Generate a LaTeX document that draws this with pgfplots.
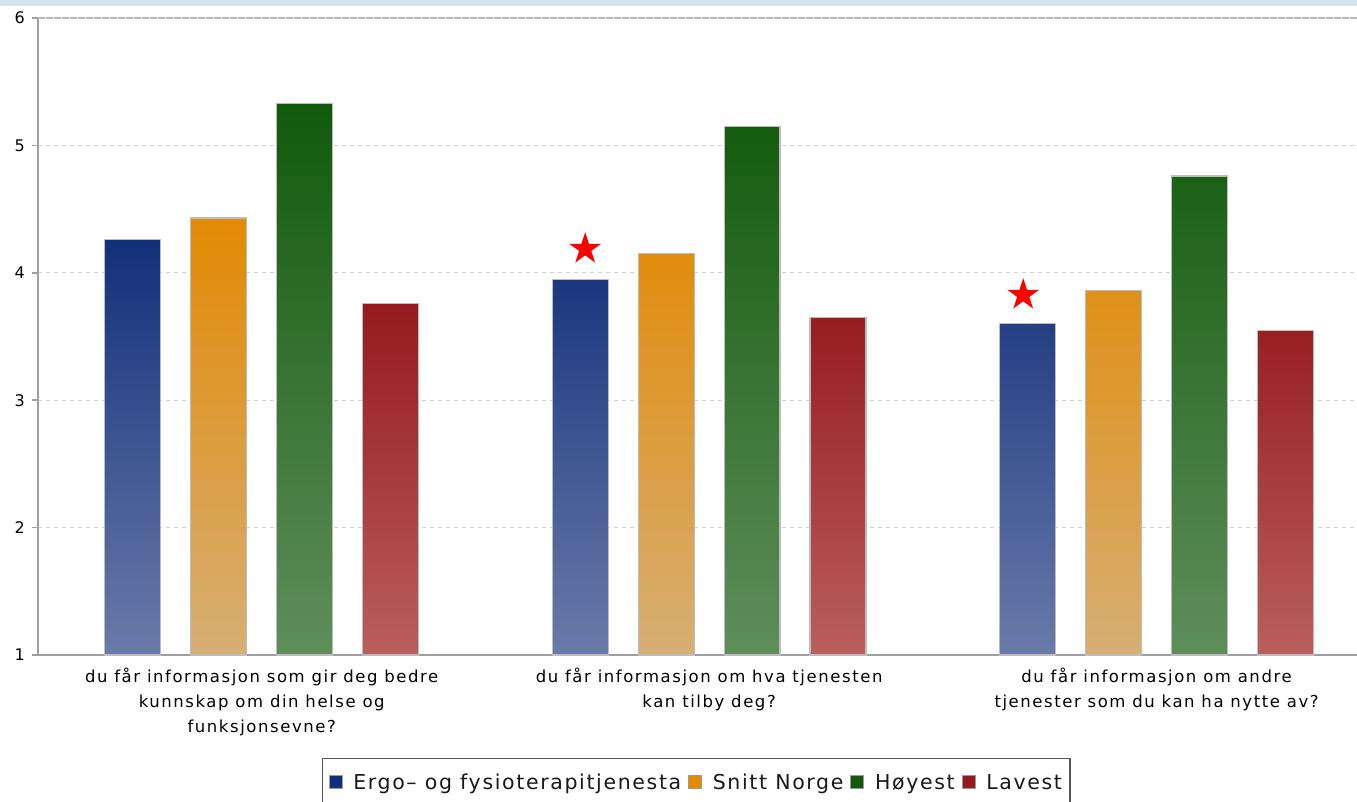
\documentclass[border=0pt]{standalone}
\usepackage{fontspec}
\setmainfont{DejaVu Sans}
\newfontfamily\labfont[LetterSpace=9.5]{DejaVu Sans}
\newfontfamily\legfont[LetterSpace=8]{DejaVu Sans}
\usepackage{pgfplots}
\pgfplotsset{compat=1.18}
\definecolor{blueTop}{HTML}{12307A}
\definecolor{blueBot}{HTML}{6A7BAA}
\definecolor{orangeTop}{HTML}{E38A05}
\definecolor{orangeBot}{HTML}{D6AF74}
\definecolor{greenTop}{HTML}{115A0B}
\definecolor{greenBot}{HTML}{5F8E5B}
\definecolor{redTop}{HTML}{951A1D}
\definecolor{redBot}{HTML}{BA5E5E}
\definecolor{axisgray}{HTML}{A0A0A0}
\definecolor{gridgray}{HTML}{D0D0D0}
\definecolor{barborder}{HTML}{BDBDBD}
\definecolor{stripblue}{HTML}{D5E3EC}
\definecolor{legborder}{HTML}{555555}
\definecolor{sqborder}{HTML}{9A9A9A}
\pgfdeclareplotmark{fstar}{%
  \pgfpathmoveto{\pgfpointpolar{90}{\pgfplotmarksize}}%
  \pgfpathlineto{\pgfpointpolar{126}{0.382\pgfplotmarksize}}%
  \pgfpathlineto{\pgfpointpolar{162}{\pgfplotmarksize}}%
  \pgfpathlineto{\pgfpointpolar{198}{0.382\pgfplotmarksize}}%
  \pgfpathlineto{\pgfpointpolar{234}{\pgfplotmarksize}}%
  \pgfpathlineto{\pgfpointpolar{270}{0.382\pgfplotmarksize}}%
  \pgfpathlineto{\pgfpointpolar{306}{\pgfplotmarksize}}%
  \pgfpathlineto{\pgfpointpolar{342}{0.382\pgfplotmarksize}}%
  \pgfpathlineto{\pgfpointpolar{18}{\pgfplotmarksize}}%
  \pgfpathlineto{\pgfpointpolar{54}{0.382\pgfplotmarksize}}%
  \pgfpathclose
  \pgfusepathqfill}
\newcommand{\legsq}[1]{%
  \pgfsetfillcolor{#1}\pgfsetstrokecolor{sqborder}\pgfsetlinewidth{0.6pt}%
  \pgfpathrectangle{\pgfpoint{0pt}{-6.5pt}}{\pgfpoint{13pt}{13pt}}%
  \pgfusepath{fill,stroke}}
\begin{document}
\begin{tikzpicture}[x=1pt,y=1pt]
\path[use as bounding box] (0,0) rectangle (1357,802);
\clip (0,0) rectangle (1357,802);
\fill[stripblue] (0,796) rectangle (1357,802);
\begin{axis}[
  at={(38pt,147pt)}, anchor=south west,
  scale only axis, width=1319pt, height=637pt,
  xmin=-0.5, xmax=2.448, ymin=1, ymax=6,
  axis x line*=bottom, axis y line*=left,
  axis line style={draw=axisgray, line width=2pt},
  ytick={1,2,3,4,5,6},
  extra y ticks={6}, extra y tick labels={},
  extra y tick style={grid style={draw=gray!55, line width=2.5pt, dash pattern=on 7pt off 1pt}},
  xtick={0,1,2},
  xticklabels={{du får informasjon som gir deg bedre\\kunnskap om din helse og\\funksjonsevne?},
               {du får informasjon om hva tjenesten\\kan tilby deg?},
               {du får informasjon om andre\\tjenester som du kan ha nytte av?}},
  xticklabel style={align=center, font=\labfont\fontsize{16.5}{25}\selectfont, inner sep=0pt, yshift=-7pt, text=black},
  yticklabel style={font=\labfont\fontsize{16}{16}\selectfont, inner sep=0pt, xshift=-7pt, text=black},
  /pgf/number format/assume math mode=true,
  major x tick style={draw=none},
  ytick style={draw=axisgray, line width=1.5pt},
  tick align=outside, major tick length=6pt,
  ymajorgrids,
  grid style={draw=gridgray, line width=1pt, dash pattern=on 4pt off 4pt},
  legend columns=-1,
  legend style={at={(0.2153,-0.1617)}, anchor=north west, draw=legborder, line width=1.5pt,
    font=\legfont\fontsize{20.5}{20.5}\selectfont, text=black!90, inner xsep=6pt, inner ysep=13pt,
    /tikz/every odd column/.append style={column sep=9pt},
    /tikz/every even column/.append style={column sep=5pt}},
  clip=false,
]
\addplot[ybar, bar width=0.125, bar shift=-0.288, top color=blueTop, bottom color=blueBot, draw=barborder, line width=1.2pt,
  legend image code/.code={\legsq{blueTop}}]
  coordinates {(0,4.26) (1,3.95) (2,3.60)};
\addlegendentry{Ergo– og fysioterapitjenesta}
\addplot[ybar, bar width=0.125, bar shift=-0.096, top color=orangeTop, bottom color=orangeBot, draw=barborder, line width=1.2pt,
  legend image code/.code={\legsq{orangeTop}}]
  coordinates {(0,4.43) (1,4.15) (2,3.86)};
\addlegendentry{Snitt Norge}
\addplot[ybar, bar width=0.125, bar shift=0.096, top color=greenTop, bottom color=greenBot, draw=barborder, line width=1.2pt,
  legend image code/.code={\legsq{greenTop}}]
  coordinates {(0,5.33) (1,5.15) (2,4.76)};
\addlegendentry{Høyest}
\addplot[ybar, bar width=0.125, bar shift=0.288, top color=redTop, bottom color=redBot, draw=barborder, line width=1.2pt,
  legend image code/.code={\legsq{redTop}}]
  coordinates {(0,3.76) (1,3.65) (2,3.55)};
\addlegendentry{Lavest}
\addplot[only marks, mark=fstar, mark size=16.8pt, color=red, mark options={fill=red, draw=none}, forget plot]
  coordinates {(0.723,4.187) (1.702,3.826)};
\end{axis}
\end{tikzpicture}
\end{document}
